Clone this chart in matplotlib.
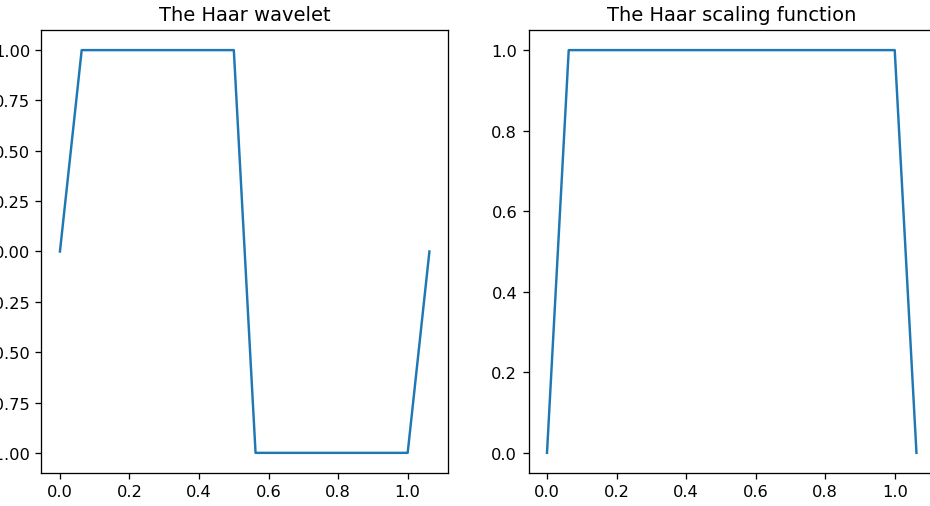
import numpy as np
import matplotlib
matplotlib.use("Agg")
import matplotlib.pyplot as plt

# sample points (step 1/16) and the Haar functions on them
x = [0.0, 0.0625, 0.125, 0.1875, 0.25, 0.3125, 0.375, 0.4375, 0.5,
     0.5625, 0.625, 0.6875, 0.75, 0.8125, 0.875, 0.9375, 1.0, 1.0625]
psi = [0, 1, 1, 1, 1, 1, 1, 1, 1,
       -1, -1, -1, -1, -1, -1, -1, -1, 0]
phi = [0, 1, 1, 1, 1, 1, 1, 1, 1,
       1, 1, 1, 1, 1, 1, 1, 1, 0]

dpi = 117
fig = plt.figure(figsize=(930 / dpi, 507 / dpi), dpi=dpi)

ax1 = fig.add_axes([0.0446, 0.0651, 0.437, 0.8738])
ax1.plot(x, psi)
ax1.set_title("The Haar wavelet")

ax2 = fig.add_axes([0.5683, 0.0651, 0.437, 0.8738])
ax2.plot(x, phi)
ax2.set_title("The Haar scaling function")

fig.savefig("out.png", dpi=dpi)
